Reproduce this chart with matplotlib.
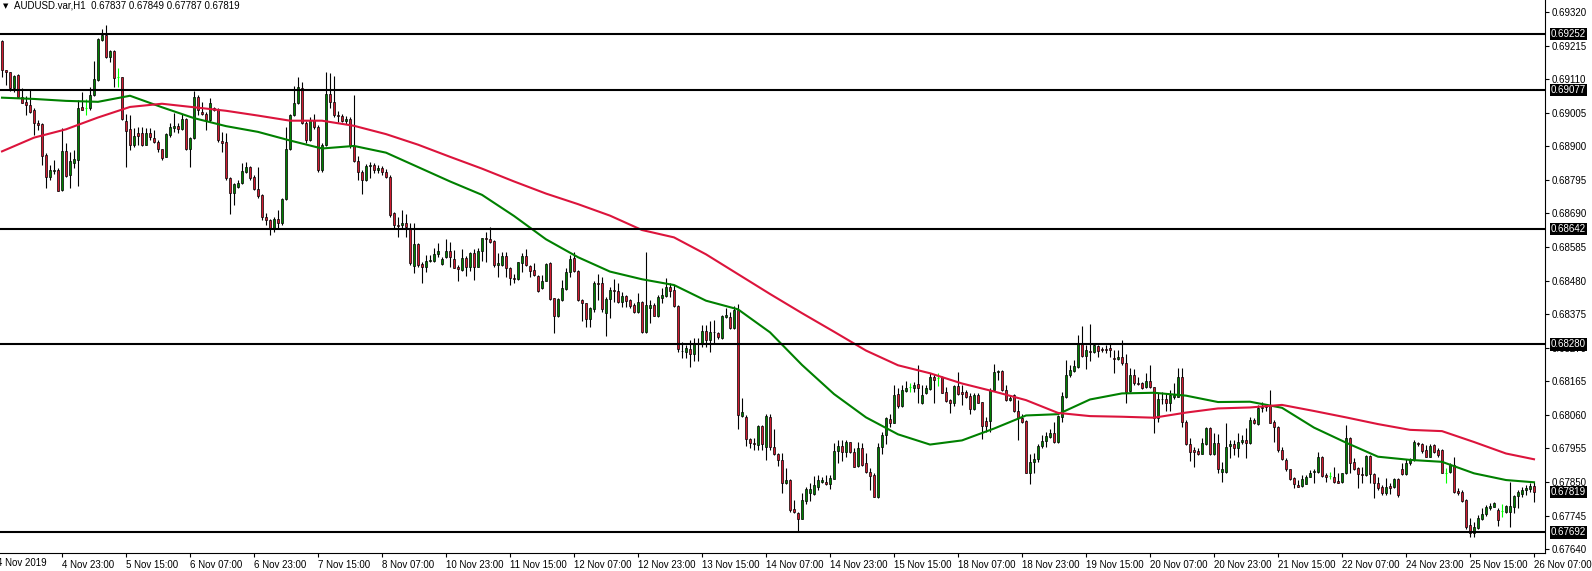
import matplotlib
matplotlib.use("Agg")
import matplotlib.pyplot as plt
import matplotlib.transforms as mtransforms
import numpy as np

# ---------------- data (prices in points, 1e-5) ----------------
opens = [
    69230, 69139, 69131, 69081, 69123, 69053, 69040, 69029, 69015, 68972,
    68969, 68873, 68803, 68824, 68826, 68763, 68885, 68810, 68849, 68857,
    69022, 69020, 69019, 69060, 69107, 69232, 69248, 69180, 69198, 69116,
    69116, 68979, 68954, 68904, 68940, 68940, 68904, 68940, 68927, 68914,
    68891, 68867, 68935, 68957, 68963, 68954, 68985, 68890, 68925, 69053,
    69008, 69001, 68982, 69021, 69015, 68917, 68912, 68800, 68753, 68774,
    68784, 68820, 68836, 68803, 68765, 68747, 68680, 68668, 68640, 68672,
    68660, 68734, 68890, 68998, 69034, 69081, 68972, 68920, 68983, 68960,
    68825, 68905, 69065, 69040, 68998, 68995, 68980, 68985, 68900, 68855,
    68820, 68795, 68838, 68842, 68825, 68832, 68820, 68805, 68690, 68654,
    68653, 68659, 68643, 68527, 68594, 68532, 68523, 68541, 68542, 68562,
    68531, 68553, 68572, 68547, 68523, 68513, 68549, 68523, 68565, 68523,
    68573, 68612, 68609, 68604, 68528, 68529, 68557, 68518, 68489, 68486,
    68536, 68557, 68525, 68513, 68494, 68456, 68480, 68536, 68424, 68370,
    68419, 68453, 68506, 68549, 68511, 68419, 68409, 68359, 68391, 68471,
    68471, 68380, 68421, 68450, 68447, 68412, 68432, 68419, 68403, 68383,
    68412, 68320, 68393, 68403, 68370, 68426, 68433, 68461, 68450, 68401,
    68261, 68258, 68266, 68250, 68284, 68284, 68323, 68294, 68318, 68315,
    68299, 68365, 68367, 68331, 68388, 68057, 68054, 67983, 67973, 67967,
    68025, 67958, 68054, 67958, 67938, 67919, 67846, 67856, 67764, 67752,
    67735, 67792, 67815, 67812, 67835, 67851, 67851, 67844, 67859, 67947,
    67964, 67943, 67974, 67943, 67901, 67955, 67908, 67882, 67872, 67804,
    67958, 67997, 68047, 68035, 68125, 68087, 68135, 68146, 68143, 68156,
    68096, 68127, 68142, 68177, 68174, 68177, 68130, 68106, 68096, 68150,
    68131, 68131, 68120, 68079, 68122, 68099, 68040, 68040, 68137, 68193,
    68198, 68139, 68106, 68122, 68073, 68049, 68040, 67879, 67911, 67922,
    67962, 67979, 67991, 68002, 67976, 68054, 68117, 68183, 68198, 68210,
    68281, 68245, 68260, 68257, 68275, 68266, 68266, 68268, 68237, 68235,
    68240, 68221, 68135, 68184, 68160, 68158, 68148, 68166, 68146, 68049,
    68111, 68111, 68096, 68115, 68117, 68177, 68038, 67969, 67950, 67947,
    67939, 67969, 68018, 67937, 67971, 67880, 67880, 67962, 67968, 67955,
    67976, 67981, 67971, 68044, 68031, 68080, 68093, 68091, 68038, 68021,
    67950, 67919, 67889, 67861, 67840, 67837, 67845, 67866, 67880, 67882,
    67929, 67872, 67868, 67866, 67853, 67851, 67877, 67986, 67911, 67895,
    67875, 67872, 67931, 67874, 67846, 67835, 67815, 67837, 67833, 67859,
    67890, 67874, 67908, 67919, 67971, 67969, 67950, 67929, 67966, 67950,
    67950, 67877, 67882, 67903, 67823, 67820, 67794, 67715, 67691, 67705,
    67733, 67750, 67768, 67773, 67762, 67760, 67757, 67757, 67771, 67806,
    67812, 67825, 67827, 67837,
]
highs = [
    69232, 69139, 69133, 69123, 69125, 69081, 69057, 69076, 69019, 68982,
    68972, 68878, 68841, 68857, 68831, 68956, 68909, 68883, 68888, 69045,
    69071, 69047, 69086, 69167, 69238, 69266, 69279, 69201, 69201, 69144,
    69118, 69000, 68998, 68956, 68961, 68961, 68956, 68958, 68951, 68920,
    68893, 68940, 68974, 69003, 68972, 69001, 68987, 68930, 69073, 69060,
    69039, 69008, 69050, 69022, 69019, 68946, 68940, 68805, 68784, 68794,
    68847, 68852, 68838, 68810, 68836, 68751, 68690, 68672, 68680, 68700,
    68738, 68961, 69000, 69088, 69116, 69102, 68980, 68990, 69000, 68965,
    68910, 69133, 69130, 69120, 69010, 69000, 68995, 68990, 69060, 68870,
    68825, 68845, 68850, 68848, 68840, 68838, 68830, 68810, 68695, 68680,
    68701, 68688, 68659, 68659, 68598, 68539, 68560, 68560, 68581, 68598,
    68555, 68609, 68602, 68576, 68529, 68578, 68557, 68570, 68578, 68581,
    68614, 68633, 68649, 68607, 68567, 68570, 68570, 68523, 68500, 68539,
    68565, 68578, 68529, 68534, 68497, 68497, 68536, 68538, 68424, 68424,
    68482, 68518, 68560, 68570, 68513, 68421, 68411, 68398, 68480, 68500,
    68490, 68430, 68461, 68485, 68471, 68445, 68435, 68421, 68409, 68440,
    68416, 68570, 68419, 68409, 68435, 68456, 68487, 68471, 68466, 68405,
    68289, 68279, 68294, 68299, 68299, 68341, 68341, 68355, 68357, 68320,
    68372, 68393, 68383, 68399, 68407, 68112, 68060, 67987, 67987, 68028,
    68028, 68062, 68062, 68015, 67940, 67940, 67893, 67858, 67794, 67757,
    67815, 67835, 67846, 67869, 67872, 67867, 67872, 67872, 67971, 67981,
    67981, 67981, 67976, 67955, 67976, 67971, 67940, 67893, 67877, 67971,
    68007, 68054, 68064, 68153, 68143, 68153, 68166, 68160, 68163, 68216,
    68153, 68153, 68192, 68187, 68190, 68181, 68146, 68111, 68153, 68195,
    68153, 68137, 68127, 68127, 68127, 68101, 68054, 68143, 68219, 68200,
    68200, 68153, 68122, 68124, 68106, 68064, 68044, 67939, 67941, 67968,
    67997, 68007, 68017, 68038, 68059, 68132, 68231, 68216, 68231, 68309,
    68338, 68278, 68344, 68285, 68278, 68273, 68278, 68283, 68263, 68263,
    68294, 68250, 68205, 68202, 68177, 68164, 68190, 68216, 68148, 68127,
    68132, 68127, 68138, 68158, 68207, 68205, 68044, 67986, 67958, 67955,
    67986, 68023, 68021, 68002, 67999, 67913, 68033, 67981, 67981, 68004,
    67997, 68018, 68054, 68051, 68091, 68101, 68094, 68138, 68044, 68025,
    67958, 67924, 67892, 67866, 67856, 67872, 67872, 67887, 67892, 67945,
    67931, 67879, 67882, 67898, 67877, 67879, 68028, 67992, 67924, 67898,
    67898, 67934, 67934, 67877, 67867, 67841, 67862, 67846, 67862, 67862,
    67910, 67921, 67924, 67981, 67976, 67971, 67966, 67969, 67969, 67955,
    67952, 67893, 67908, 67927, 67830, 67825, 67796, 67736, 67726, 67747,
    67768, 67778, 67783, 67788, 67768, 67781, 67778, 67851, 67809, 67825,
    67835, 67841, 67846, 67849,
]
lows = [
    69118, 69092, 69074, 69071, 69050, 69034, 68998, 69005, 68935, 68951,
    68841, 68768, 68794, 68813, 68761, 68761, 68805, 68768, 68831, 68777,
    69013, 68998, 69015, 69057, 69104, 69230, 69175, 69165, 69086, 69086,
    68982, 68836, 68888, 68899, 68904, 68901, 68904, 68920, 68909, 68883,
    68857, 68865, 68930, 68946, 68940, 68951, 68888, 68836, 68923, 68998,
    68998, 68951, 68977, 69011, 68914, 68883, 68796, 68687, 68716, 68768,
    68781, 68815, 68796, 68763, 68737, 68669, 68655, 68622, 68632, 68645,
    68655, 68732, 68888, 68994, 69032, 68970, 68910, 68915, 68955, 68820,
    68820, 68900, 69020, 68990, 68975, 68975, 68970, 68895, 68852, 68795,
    68750, 68790, 68800, 68815, 68815, 68810, 68800, 68680, 68645, 68617,
    68643, 68617, 68529, 68505, 68523, 68471, 68508, 68539, 68539, 68555,
    68529, 68549, 68523, 68518, 68480, 68511, 68494, 68511, 68482, 68521,
    68542, 68539, 68596, 68523, 68492, 68525, 68492, 68466, 68471, 68482,
    68508, 68527, 68492, 68494, 68445, 68452, 68479, 68419, 68315, 68367,
    68417, 68450, 68492, 68508, 68417, 68354, 68334, 68336, 68383, 68419,
    68383, 68306, 68362, 68414, 68409, 68396, 68398, 68393, 68377, 68379,
    68317, 68317, 68346, 68369, 68367, 68411, 68430, 68430, 68398, 68255,
    68237, 68237, 68209, 68227, 68229, 68271, 68273, 68255, 68284, 68296,
    68296, 68362, 68329, 68328, 68015, 68054, 67961, 67955, 67950, 67950,
    67950, 67919, 67950, 67934, 67900, 67815, 67844, 67757, 67752, 67692,
    67733, 67781, 67792, 67809, 67825, 67846, 67841, 67827, 67858, 67908,
    67914, 67929, 67940, 67896, 67898, 67900, 67877, 67825, 67804, 67799,
    67937, 67970, 68021, 68033, 68080, 68085, 68132, 68132, 68132, 68096,
    68094, 68125, 68139, 68098, 68150, 68127, 68101, 68066, 68087, 68122,
    68090, 68114, 68064, 68075, 68096, 67983, 68007, 68007, 68135, 68169,
    68135, 68104, 68103, 68070, 67981, 68033, 67877, 67845, 67879, 67913,
    67955, 67960, 67989, 67973, 67973, 68038, 68114, 68177, 68195, 68208,
    68242, 68202, 68229, 68252, 68240, 68257, 68254, 68242, 68190, 68231,
    68216, 68096, 68132, 68153, 68153, 68140, 68145, 68143, 68002, 68038,
    68094, 68073, 68073, 68108, 68115, 68021, 67965, 67916, 67896, 67934,
    67937, 67965, 67934, 67934, 67879, 67851, 67877, 67924, 67934, 67929,
    67969, 67924, 67969, 68031, 68028, 68070, 68073, 68033, 67976, 67945,
    67919, 67885, 67856, 67830, 67833, 67835, 67843, 67864, 67848, 67879,
    67866, 67851, 67858, 67848, 67846, 67848, 67875, 67877, 67887, 67830,
    67846, 67869, 67846, 67799, 67825, 67809, 67809, 67812, 67830, 67804,
    67872, 67872, 67903, 67917, 67961, 67940, 67927, 67927, 67940, 67929,
    67877, 67848, 67879, 67817, 67809, 67788, 67702, 67677, 67679, 67702,
    67731, 67742, 67762, 67771, 67712, 67739, 67752, 67710, 67752, 67768,
    67804, 67809, 67820, 67787,
]
closes = [
    69139, 69131, 69081, 69120, 69053, 69036, 69029, 69008, 68972, 68966,
    68869, 68805, 68826, 68826, 68761, 68885, 68808, 68854, 68860, 69019,
    69015, 69020, 69060, 69109, 69236, 69248, 69180, 69198, 69112, 69116,
    68985, 68948, 68904, 68932, 68933, 68904, 68940, 68928, 68912, 68893,
    68864, 68937, 68959, 68963, 68954, 68985, 68890, 68925, 69053, 69015,
    69001, 68982, 69034, 69013, 68920, 68911, 68800, 68753, 68781, 68786,
    68823, 68836, 68800, 68765, 68744, 68680, 68668, 68640, 68672, 68660,
    68734, 68890, 68998, 69034, 69086, 68972, 68920, 68983, 68960, 68825,
    68905, 69065, 69040, 68998, 68995, 68980, 68985, 68900, 68855, 68820,
    68795, 68838, 68842, 68825, 68832, 68820, 68805, 68685, 68654, 68652,
    68661, 68649, 68534, 68594, 68529, 68521, 68541, 68544, 68563, 68572,
    68546, 68572, 68553, 68520, 68515, 68549, 68523, 68565, 68523, 68573,
    68612, 68609, 68602, 68529, 68536, 68557, 68518, 68487, 68486, 68538,
    68557, 68529, 68511, 68497, 68448, 68479, 68532, 68422, 68370, 68422,
    68456, 68508, 68547, 68510, 68419, 68411, 68359, 68393, 68471, 68469,
    68391, 68422, 68450, 68447, 68412, 68433, 68417, 68400, 68381, 68412,
    68320, 68403, 68403, 68370, 68427, 68435, 68459, 68448, 68401, 68265,
    68260, 68268, 68250, 68284, 68282, 68323, 68294, 68318, 68320, 68303,
    68370, 68372, 68333, 68388, 68060, 68068, 67983, 67973, 67968, 68025,
    67968, 68056, 67958, 67938, 67919, 67846, 67856, 67762, 67755, 67735,
    67794, 67827, 67827, 67841, 67856, 67856, 67844, 67861, 67947, 67964,
    67943, 67974, 67943, 67898, 67955, 67903, 67882, 67869, 67804, 67958,
    67997, 68049, 68035, 68122, 68087, 68137, 68143, 68146, 68153, 68143,
    68122, 68143, 68177, 68169, 68174, 68129, 68104, 68096, 68150, 68125,
    68125, 68117, 68079, 68122, 68098, 68026, 68026, 68137, 68194, 68198,
    68137, 68106, 68114, 68073, 68049, 68038, 67879, 67911, 67922, 67962,
    67979, 67993, 68002, 67976, 68056, 68119, 68184, 68200, 68214, 68281,
    68245, 68263, 68257, 68278, 68260, 68263, 68263, 68263, 68235, 68240,
    68221, 68132, 68184, 68158, 68157, 68145, 68166, 68146, 68049, 68108,
    68108, 68096, 68122, 68122, 68177, 68038, 67969, 67943, 67945, 67939,
    67971, 68018, 67937, 67971, 67892, 67892, 67960, 67968, 67955, 67976,
    67981, 67971, 68044, 68033, 68080, 68085, 68083, 68035, 68021, 67950,
    67921, 67889, 67858, 67843, 67835, 67858, 67866, 67879, 67884, 67929,
    67868, 67864, 67868, 67851, 67848, 67877, 67986, 67910, 67892, 67875,
    67872, 67931, 67874, 67846, 67830, 67815, 67833, 67830, 67859, 67809,
    67874, 67910, 67921, 67976, 67969, 67948, 67929, 67963, 67945, 67934,
    67879, 67877, 67903, 67820, 67815, 67792, 67708, 67691, 67710, 67736,
    67750, 67771, 67775, 67783, 67731, 67760, 67775, 67775, 67806, 67820,
    67825, 67830, 67837, 67819,
]

# moving averages, read every 8 bars
ma_bars = list(range(0, 384, 8)) + [383]
green_ma = [
    69052, 69048, 69042, 69039, 69058, 69022, 68988, 68963, 68945, 68918,
    68893, 68901, 68880, 68835, 68790, 68748, 68682, 68609, 68553, 68508,
    68484, 68466, 68417, 68390, 68318, 68216, 68125, 68052, 67999, 67967,
    67980, 68017, 68058, 68062, 68108, 68127, 68129, 68120, 68100, 68101,
    68082, 68020, 67973, 67929, 67919, 67913, 67877, 67856, 67849,
]
red_ma = [
    68884, 68927, 68953, 68990, 69023, 69033, 69022, 69011, 68996, 68980,
    68980, 68964, 68938, 68905, 68867, 68830, 68790, 68752, 68719, 68683,
    68638, 68615, 68562, 68500, 68438, 68378, 68320, 68261, 68215, 68190,
    68158, 68133, 68106, 68066, 68056, 68054, 68051, 68067, 68080, 68083,
    68091, 68072, 68052, 68031, 68013, 68009, 67975, 67939, 67921,
]

levels = [0.69252, 0.69077, 0.68642, 0.68280, 0.67692]
price_labels = ["0.69320", "0.69215", "0.69110", "0.69005", "0.68900", "0.68795",
                "0.68690", "0.68585", "0.68480", "0.68375", "0.68270", "0.68165",
                "0.68060", "0.67955", "0.67850", "0.67745", "0.67640"]
time_labels = ["4 Nov 23:00", "5 Nov 15:00", "6 Nov 07:00", "6 Nov 23:00", "7 Nov 15:00",
               "8 Nov 07:00", "10 Nov 23:00", "11 Nov 15:00", "12 Nov 07:00", "12 Nov 23:00",
               "13 Nov 15:00", "14 Nov 07:00", "14 Nov 23:00", "15 Nov 15:00", "18 Nov 07:00",
               "18 Nov 23:00", "19 Nov 15:00", "20 Nov 07:00", "20 Nov 23:00", "21 Nov 15:00",
               "22 Nov 07:00", "24 Nov 23:00", "25 Nov 15:00", "26 Nov 07:00"]
first_label = "4 Nov 2019"

# ---------------- drawing ----------------
plt.rcParams['font.family'] = ['Liberation Sans', 'DejaVu Sans']
FS = 7

o = np.array(opens) / 1e5
h = np.array(highs) / 1e5
l = np.array(lows) / 1e5
c = np.array(closes) / 1e5
x = np.arange(len(o))

W, H = 1592, 571
fig = plt.figure(figsize=(W / 100, H / 100), dpi=100)
ax = fig.add_axes([0, (H - 553) / H, 1545 / W, 553 / H])
ax.set_xlim(-0.5, 385.75)
ax.set_ylim(0.676278, 0.693575)

up = c > o
dn = c < o
eq = c == o

ax.vlines(x[~eq], l[~eq], h[~eq], color='black', lw=0.8, zorder=2)
ax.bar(x[up], (c - o)[up], bottom=o[up], width=0.65, color='#008000',
       edgecolor='black', linewidth=0.5, zorder=3)
ax.bar(x[dn], (c - o)[dn], bottom=o[dn], width=0.65, color='#D01A30',
       edgecolor='black', linewidth=0.5, zorder=3)
ax.vlines(x[eq], l[eq], h[eq], color='#00FF00', lw=0.8, zorder=3)
ax.hlines(o[eq], x[eq] - 0.35, x[eq] + 0.35, color='#00FF00', lw=0.8, zorder=3)

ax.plot(ma_bars, np.array(green_ma) / 1e5, color='#008000', lw=1.5, zorder=4)
ax.plot(ma_bars, np.array(red_ma) / 1e5, color='#DC143C', lw=1.5, zorder=4)

for lv in levels:
    ax.axhline(lv, color='black', lw=1.5, zorder=5)

for s in ['left', 'top']:
    ax.spines[s].set_visible(False)
for s in ['right', 'bottom']:
    ax.spines[s].set_linewidth(0.8)

ax.yaxis.tick_right()
ax.set_yticks([float(t) for t in price_labels])
ax.set_yticklabels(price_labels)
ax.tick_params(axis='y', direction='out', length=3, width=0.8, labelsize=FS, pad=2)

ax.set_xticks([15 + 16 * i for i in range(len(time_labels))])
ax.set_xticklabels(time_labels)
for t in ax.get_xticklabels():
    t.set_horizontalalignment('left')
ax.tick_params(axis='x', direction='out', length=3, width=0.8, labelsize=FS, pad=2)
fig.text(-3 / W, (H - 563) / H, first_label, fontsize=FS, va='center', ha='left')

trans = mtransforms.blended_transform_factory(ax.transAxes, ax.transData)
for lv in levels + [c[-1]]:
    ax.text(1551 / 1545, lv, f"{lv:.5f}", transform=trans, ha='left', va='center',
            color='white', fontsize=FS, clip_on=False, zorder=10,
            bbox=dict(boxstyle='square,pad=0.12', fc='black', ec='none'))

fig.text(3 / W, 1 - 6 / H, "\u25BC", fontsize=5, va='center', ha='left',
         family='DejaVu Sans')
fig.text(14 / W, 1 - 6 / H,
         f"AUDUSD.var,H1  {o[-1]:.5f} {h[-1]:.5f} {l[-1]:.5f} {c[-1]:.5f}",
         fontsize=FS, va='center', ha='left')

fig.savefig("out.png", dpi=100)
